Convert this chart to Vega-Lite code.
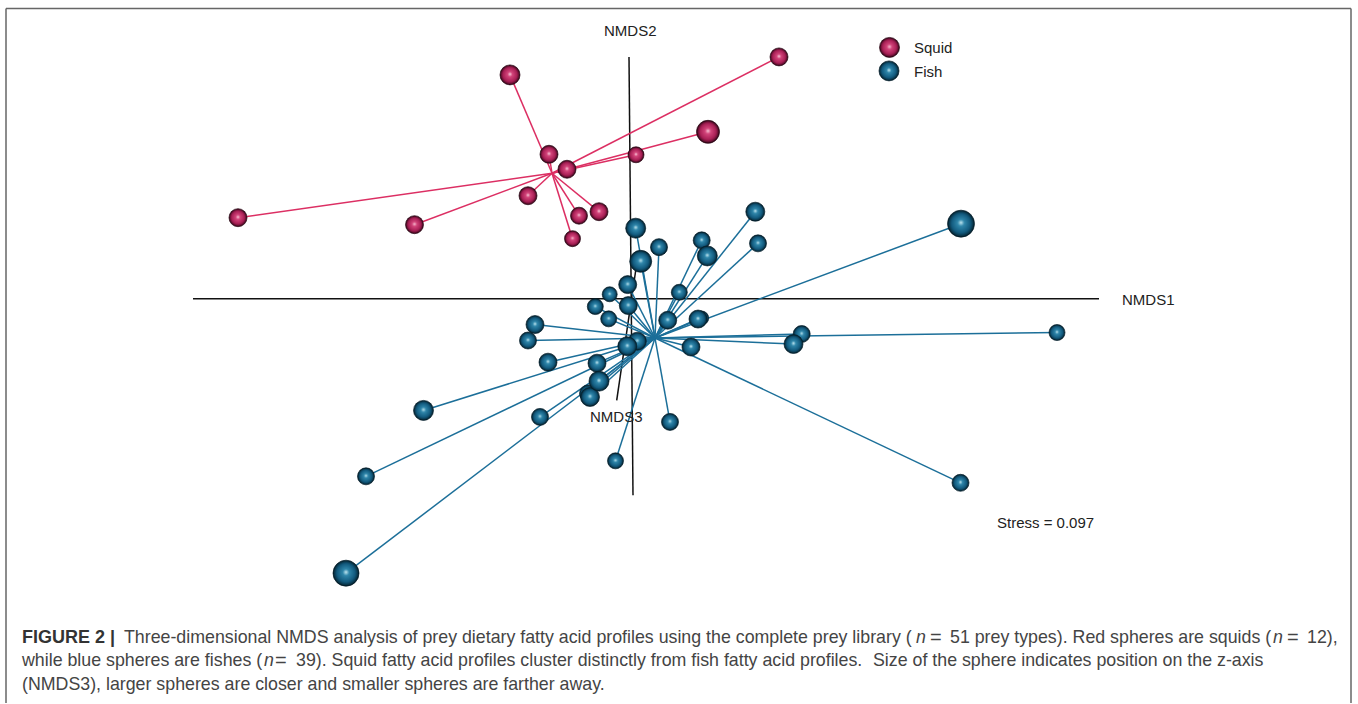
{
"$schema":"https://vega.github.io/schema/vega-lite/v6.json",
"width":1358,"height":704,"padding":0,"autosize":{"type":"fit","contains":"padding"},
"background":"white","config":{"view":{"stroke":null}},
"datasets":{
"spheres":[
{"group":"Squid","x":779,"y":57,"d":18,"cx":552,"cy":173.5},
{"group":"Squid","x":510,"y":75,"d":20,"cx":552,"cy":173.5},
{"group":"Squid","x":708,"y":132,"d":23,"cx":552,"cy":173.5},
{"group":"Squid","x":549,"y":154.5,"d":18,"cx":552,"cy":173.5},
{"group":"Squid","x":567,"y":169.5,"d":18,"cx":552,"cy":173.5},
{"group":"Squid","x":636,"y":155,"d":16,"cx":552,"cy":173.5},
{"group":"Squid","x":528,"y":196,"d":18,"cx":552,"cy":173.5},
{"group":"Squid","x":599,"y":212,"d":18,"cx":552,"cy":173.5},
{"group":"Squid","x":579,"y":216,"d":17,"cx":552,"cy":173.5},
{"group":"Squid","x":572.5,"y":239,"d":16,"cx":552,"cy":173.5},
{"group":"Squid","x":414.5,"y":225,"d":18,"cx":552,"cy":173.5},
{"group":"Squid","x":238,"y":218,"d":18,"cx":552,"cy":173.5},
{"group":"Fish","x":961,"y":224,"d":27,"cx":655,"cy":338.5},
{"group":"Fish","x":1057,"y":333,"d":16,"cx":655,"cy":338.5},
{"group":"Fish","x":423.5,"y":411,"d":20,"cx":655,"cy":338.5},
{"group":"Fish","x":366,"y":477,"d":17,"cx":655,"cy":338.5},
{"group":"Fish","x":615.5,"y":461.5,"d":16,"cx":655,"cy":338.5},
{"group":"Fish","x":960.5,"y":483.5,"d":17,"cx":655,"cy":338.5},
{"group":"Fish","x":346,"y":574,"d":26,"cx":655,"cy":338.5},
{"group":"Fish","x":588,"y":394,"d":17,"cx":655,"cy":338.5},
{"group":"Fish","x":590,"y":397.5,"d":19,"cx":655,"cy":338.5},
{"group":"Fish","x":540,"y":417.5,"d":17,"cx":655,"cy":338.5},
{"group":"Fish","x":670,"y":422.5,"d":17,"cx":655,"cy":338.5},
{"group":"Fish","x":701.7,"y":318.5,"d":14,"cx":655,"cy":338.5},
{"group":"Fish","x":698,"y":319.5,"d":18,"cx":655,"cy":338.5},
{"group":"Fish","x":801.7,"y":334.5,"d":17,"cx":655,"cy":338.5},
{"group":"Fish","x":793.5,"y":344.5,"d":19,"cx":655,"cy":338.5},
{"group":"Fish","x":691,"y":347.5,"d":18,"cx":655,"cy":338.5},
{"group":"Fish","x":635.7,"y":228.5,"d":20,"cx":655,"cy":338.5},
{"group":"Fish","x":659,"y":247.5,"d":17,"cx":655,"cy":338.5},
{"group":"Fish","x":701.7,"y":240.7,"d":17,"cx":655,"cy":338.5},
{"group":"Fish","x":755.3,"y":212,"d":19,"cx":655,"cy":338.5},
{"group":"Fish","x":758,"y":243.7,"d":17,"cx":655,"cy":338.5},
{"group":"Fish","x":707.3,"y":256.3,"d":20,"cx":655,"cy":338.5},
{"group":"Fish","x":640.7,"y":261.7,"d":22,"cx":655,"cy":338.5},
{"group":"Fish","x":627.7,"y":285,"d":18,"cx":655,"cy":338.5},
{"group":"Fish","x":609.7,"y":294.7,"d":15,"cx":655,"cy":338.5},
{"group":"Fish","x":679.3,"y":292.7,"d":16,"cx":655,"cy":338.5},
{"group":"Fish","x":595.3,"y":307,"d":16,"cx":655,"cy":338.5},
{"group":"Fish","x":628.3,"y":306,"d":18,"cx":655,"cy":338.5},
{"group":"Fish","x":608.7,"y":319.3,"d":16,"cx":655,"cy":338.5},
{"group":"Fish","x":667.7,"y":320.7,"d":18,"cx":655,"cy":338.5},
{"group":"Fish","x":535,"y":325,"d":18,"cx":655,"cy":338.5},
{"group":"Fish","x":528,"y":341,"d":17,"cx":655,"cy":338.5},
{"group":"Fish","x":637.3,"y":341.7,"d":18,"cx":655,"cy":338.5},
{"group":"Fish","x":627.3,"y":346.7,"d":19,"cx":655,"cy":338.5},
{"group":"Fish","x":548,"y":362.7,"d":18,"cx":655,"cy":338.5},
{"group":"Fish","x":597,"y":363.7,"d":18,"cx":655,"cy":338.5},
{"group":"Fish","x":599,"y":381.7,"d":20,"cx":655,"cy":338.5}
],
"legend":[
{"group":"Squid","x":889.5,"y":47.5,"d":20},
{"group":"Fish","x":889,"y":71,"d":20}
],
"axes":[
{"name":"NMDS1","x":193,"y":299.2,"x2":1099,"y2":299.2},
{"name":"NMDS2","x":629,"y":57,"x2":633,"y2":496},
{"name":"NMDS3","x":616.7,"y":401,"x2":637,"y2":262}
],
"frame":[
{"side":"top","x":6,"y":8.5,"x2":1351,"y2":8.5},
{"side":"left","x":6,"y":8.5,"x2":6,"y2":704},
{"side":"right","x":1351,"y":8.5,"x2":1351,"y2":704}
],
"labels":[
{"text":"NMDS2","x":604,"y":31},
{"text":"NMDS1","x":1122,"y":300},
{"text":"NMDS3","x":590,"y":418},
{"text":"Stress = 0.097","x":997,"y":524},
{"text":"Squid","x":914,"y":48},
{"text":"Fish","x":914,"y":72}
],
"caption":[
{"text":"FIGURE 2 |","x":22,"y":638.5,"style":"bold"},
{"text":"Three-dimensional NMDS analysis of prey dietary fatty acid profiles using the complete prey library (","x":124,"y":638.5,"style":"normal"},
{"text":"n","x":916,"y":638.5,"style":"italic"},
{"text":"=","x":930,"y":638.5,"style":"math"},
{"text":"51 prey types). Red spheres are squids (","x":950,"y":638.5,"style":"normal"},
{"text":"n","x":1273,"y":638.5,"style":"italic"},
{"text":"=","x":1287,"y":638.5,"style":"math"},
{"text":"12),","x":1307,"y":638.5,"style":"normal"},
{"text":"while blue spheres are fishes (","x":22,"y":662,"style":"normal"},
{"text":"n","x":264,"y":662,"style":"italic"},
{"text":"=","x":275,"y":662,"style":"math"},
{"text":"39). Squid fatty acid profiles cluster distinctly from fish fatty acid profiles.","x":296,"y":662,"style":"normal"},
{"text":"Size of the sphere indicates position on the z-axis","x":873,"y":662,"style":"normal"},
{"text":"(NMDS3), larger spheres are closer and smaller spheres are farther away.","x":22,"y":685.5,"style":"normal"}
]
},
"encoding":{
"x":{"field":"x","type":"quantitative","scale":{"domain":[0,1358]},"axis":null},
"y":{"field":"y","type":"quantitative","scale":{"domain":[703,0]},"axis":null}
},
"layer":[
{"data":{"name":"frame"},"mark":{"type":"rule","stroke":"#666666","strokeWidth":1.5},
 "encoding":{"x2":{"field":"x2"},"y2":{"field":"y2"}}},
{"data":{"name":"axes"},"mark":{"type":"rule","stroke":"#111111","strokeWidth":1.5},
 "encoding":{"x2":{"field":"x2"},"y2":{"field":"y2"}}},
{"data":{"name":"spheres"},"mark":{"type":"rule","strokeWidth":1.5},
 "encoding":{"x2":{"field":"cx"},"y2":{"field":"cy"},
 "color":{"field":"group","type":"nominal","legend":null,"scale":{"domain":["Squid","Fish"],"range":["#dc2f63","#1c6f99"]}}}},
{"data":{"name":"spheres"},"transform":[{"filter":"datum.group==='Squid'"}],
 "mark":{"type":"circle","opacity":1,"stroke":"#2a0512","strokeWidth":0.7,"fill":{"gradient":"radial","x1":0.5,"y1":0.46,"r1":0,"x2":0.5,"y2":0.5,"r2":0.5,"stops":[{"offset":0,"color":"#f9c6d6"},{"offset":0.25,"color":"#d2447a"},{"offset":0.7,"color":"#a81f55"},{"offset":0.9,"color":"#5e0d2d"},{"offset":1,"color":"#1c030c"}]}},
 "encoding":{"size":{"field":"d","type":"quantitative","legend":null,"scale":{"type":"pow","exponent":2,"domain":[0,30],"range":[0,900]}}}},
{"data":{"name":"spheres"},"transform":[{"filter":"datum.group==='Fish'"}],
 "mark":{"type":"circle","opacity":1,"stroke":"#04202c","strokeWidth":0.7,"fill":{"gradient":"radial","x1":0.5,"y1":0.46,"r1":0,"x2":0.5,"y2":0.5,"r2":0.5,"stops":[{"offset":0,"color":"#c0e6f0"},{"offset":0.25,"color":"#2f86aa"},{"offset":0.7,"color":"#125a7e"},{"offset":0.9,"color":"#083448"},{"offset":1,"color":"#03141c"}]}},
 "encoding":{"size":{"field":"d","type":"quantitative","legend":null,"scale":{"type":"pow","exponent":2,"domain":[0,30],"range":[0,900]}}}},
{"data":{"name":"legend"},"transform":[{"filter":"datum.group==='Squid'"}],
 "mark":{"type":"circle","opacity":1,"stroke":"#2a0512","strokeWidth":0.7,"fill":{"gradient":"radial","x1":0.5,"y1":0.46,"r1":0,"x2":0.5,"y2":0.5,"r2":0.5,"stops":[{"offset":0,"color":"#f9c6d6"},{"offset":0.25,"color":"#d2447a"},{"offset":0.7,"color":"#a81f55"},{"offset":0.9,"color":"#5e0d2d"},{"offset":1,"color":"#1c030c"}]}},
 "encoding":{"size":{"field":"d","type":"quantitative","legend":null,"scale":{"type":"pow","exponent":2,"domain":[0,30],"range":[0,900]}}}},
{"data":{"name":"legend"},"transform":[{"filter":"datum.group==='Fish'"}],
 "mark":{"type":"circle","opacity":1,"stroke":"#04202c","strokeWidth":0.7,"fill":{"gradient":"radial","x1":0.5,"y1":0.46,"r1":0,"x2":0.5,"y2":0.5,"r2":0.5,"stops":[{"offset":0,"color":"#c0e6f0"},{"offset":0.25,"color":"#2f86aa"},{"offset":0.7,"color":"#125a7e"},{"offset":0.9,"color":"#083448"},{"offset":1,"color":"#03141c"}]}},
 "encoding":{"size":{"field":"d","type":"quantitative","legend":null,"scale":{"type":"pow","exponent":2,"domain":[0,30],"range":[0,900]}}}},
{"data":{"name":"labels"},"mark":{"type":"text","align":"left","baseline":"middle","font":"Liberation Sans","fontSize":15,"color":"#222222"},
 "encoding":{"text":{"field":"text"}}},
{"data":{"name":"caption"},"transform":[{"filter":"datum.style==='normal'"}],"mark":{"type":"text","align":"left","baseline":"middle","font":"Liberation Sans","fontSize":17.8,"color":"#444444"},
 "encoding":{"text":{"field":"text"}}},
{"data":{"name":"caption"},"transform":[{"filter":"datum.style==='math'"}],"mark":{"type":"text","align":"left","baseline":"middle","font":"Liberation Sans","fontSize":20,"color":"#444444"},
 "encoding":{"text":{"field":"text"}}},
{"data":{"name":"caption"},"transform":[{"filter":"datum.style==='bold'"}],"mark":{"type":"text","align":"left","baseline":"middle","font":"Liberation Sans","fontSize":18,"fontWeight":"bold","color":"#333333"},
 "encoding":{"text":{"field":"text"}}},
{"data":{"name":"caption"},"transform":[{"filter":"datum.style==='italic'"}],"mark":{"type":"text","align":"left","baseline":"middle","font":"Liberation Sans","fontSize":17.8,"fontStyle":"italic","color":"#444444"},
 "encoding":{"text":{"field":"text"}}}
]
}
